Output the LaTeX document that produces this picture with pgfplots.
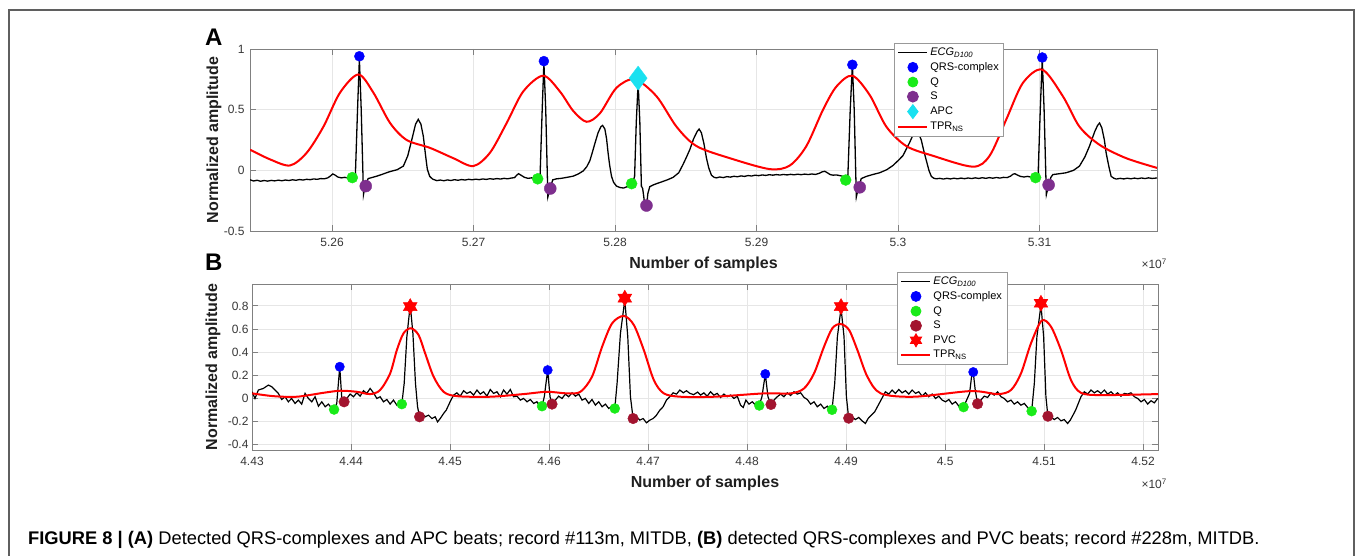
\documentclass[border=0pt]{standalone}
\usepackage{fontspec}
\setmainfont{Liberation Sans}
\usepackage{pgfplots}
\pgfplotsset{compat=1.18}
\usetikzlibrary{plotmarks}

\definecolor{qgreen}{RGB}{25,235,25}
\definecolor{spurple}{RGB}{126,47,142}
\definecolor{smaroon}{RGB}{162,20,47}
\definecolor{apccyan}{RGB}{25,225,240}
\definecolor{axgray}{RGB}{128,128,128}
\definecolor{gridgray}{RGB}{230,230,230}
\definecolor{lblgray}{RGB}{55,55,55}
\definecolor{framegray}{RGB}{95,95,95}

% filled six-pointed star (MATLAB hexagram)
\pgfdeclareplotmark{hexagram}{%
  \pgfpathmoveto{\pgfpointpolar{90}{\pgfplotmarksize}}%
  \pgfpathlineto{\pgfpointpolar{210}{\pgfplotmarksize}}%
  \pgfpathlineto{\pgfpointpolar{330}{\pgfplotmarksize}}%
  \pgfpathclose
  \pgfpathmoveto{\pgfpointpolar{270}{\pgfplotmarksize}}%
  \pgfpathlineto{\pgfpointpolar{30}{\pgfplotmarksize}}%
  \pgfpathlineto{\pgfpointpolar{150}{\pgfplotmarksize}}%
  \pgfpathclose
  \pgfusepathqfillstroke}

\pgfplotsset{
  ecg/.style={
    scale only axis,
    axis line style={axgray, line width=0.9pt},
    major tick style={axgray, line width=0.9pt},
    major tick length=6pt,
    tick align=inside,
    grid=major,
    major grid style={gridgray, line width=0.8pt},
    ticklabel style={font=\fontsize{12}{14}\selectfont, text=lblgray},
    xticklabel style={yshift=-4pt},
    label style={font=\fontsize{16}{18}\selectfont\bfseries, text=black!88},
    scaled x ticks=false,
    legend cell align=left,
    legend image code/.code={%
      \draw[mark repeat=2, mark phase=2, ##1] plot coordinates {(0pt,0pt) (14.5pt,0pt) (29pt,0pt)};},
    legend style={draw=gray!80, line width=0.8pt, fill=white,
      font=\fontsize{11}{12.5}\selectfont, inner sep=3pt, row sep=1.4pt,
      anchor=north west},
  },
}

\begin{document}
\begin{tikzpicture}
\useasboundingbox (0pt,0pt) rectangle (1360pt,556pt);
\draw[framegray, line width=1.6pt] (9pt,-2pt) -- (9pt,546pt) -- (1354pt,546pt) -- (1354pt,-2pt);

%% ---------------- panel A ----------------
\begin{axis}[ecg,
  at={(250pt,325pt)}, anchor=south west,
  width=907pt, height=182pt,
  xmin=5.2542, xmax=5.3183, ymin=-0.5, ymax=1,
  xtick={5.26,5.27,5.28,5.29,5.30,5.31},
  xticklabels={5.26,5.27,5.28,5.29,5.3,5.31},
  ytick={-0.5,0,0.5,1},
  yticklabels={-0.5,0,0.5,1},
  yticklabel style={xshift=-2pt},
  xlabel={Number of samples},
  ylabel={Normalized amplitude},
  xlabel style={at={(axis description cs:0.5,-0.181)}, anchor=center},
  ylabel style={at={(axis description cs:-0.0397,0.5)}, anchor=center},
  legend style={at={(0.710,1.035)}},
]
% ECG signal
\addplot[black, line width=1.3pt, forget plot] coordinates {
(5.25420,-0.078) (5.25445,-0.088) (5.25470,-0.082) (5.25495,-0.090) (5.25520,-0.084) (5.25545,-0.089)
(5.25570,-0.083) (5.25595,-0.087) (5.25620,-0.081) (5.25645,-0.086) (5.25670,-0.080) (5.25695,-0.084)
(5.25720,-0.078) (5.25745,-0.082) (5.25770,-0.076) (5.25795,-0.080) (5.25820,-0.074) (5.25845,-0.077)
(5.25870,-0.071) (5.25895,-0.074) (5.25920,-0.068) (5.25945,-0.070) (5.25970,-0.062) (5.25990,-0.045)
(5.26005,-0.030) (5.26020,-0.038) (5.26040,-0.055) (5.26065,-0.062) (5.26090,-0.058) (5.26115,-0.064)
(5.26135,-0.058) (5.26150,-0.050) (5.26165,-0.030) (5.26180,0.50) (5.26193,0.92) (5.26206,0.50)
(5.26222,-0.20) (5.26235,-0.12) (5.26255,-0.068) (5.26280,-0.060) (5.26316,-0.048) (5.26350,-0.035)
(5.26380,-0.022) (5.26410,-0.010) (5.26460,0.005) (5.26504,0.035) (5.26535,0.12) (5.26563,0.25)
(5.26590,0.38) (5.26609,0.42) (5.26628,0.38) (5.26645,0.28) (5.26660,0.13) (5.26673,0.01)
(5.26690,-0.05) (5.26710,-0.072) (5.26740,-0.085) (5.26765,-0.080) (5.26790,-0.086) (5.26815,-0.079)
(5.26840,-0.084) (5.26865,-0.077) (5.26890,-0.082) (5.26915,-0.076) (5.26940,-0.080) (5.26965,-0.074)
(5.26990,-0.078) (5.27015,-0.073) (5.27040,-0.077) (5.27065,-0.071) (5.27090,-0.075) (5.27115,-0.069)
(5.27140,-0.073) (5.27165,-0.068) (5.27190,-0.072) (5.27215,-0.066) (5.27240,-0.070) (5.27265,-0.064)
(5.27290,-0.060) (5.27305,-0.040) (5.27318,-0.028) (5.27335,-0.040) (5.27360,-0.058) (5.27385,-0.066)
(5.27410,-0.062) (5.27435,-0.068) (5.27455,-0.062) (5.27470,-0.045) (5.27485,0.50) (5.27497,0.89)
(5.27510,0.50) (5.27525,-0.22) (5.27540,-0.15) (5.27560,-0.078) (5.27587,-0.070) (5.27620,-0.066)
(5.27660,-0.058) (5.27704,-0.048) (5.27740,-0.030) (5.27775,-0.005) (5.27800,0.03) (5.27822,0.08)
(5.27840,0.15) (5.27857,0.22) (5.27880,0.31) (5.27900,0.36) (5.27912,0.37) (5.27928,0.34)
(5.27940,0.26) (5.27951,0.14) (5.27962,0.04) (5.27975,-0.05) (5.27990,-0.10) (5.28010,-0.13)
(5.28035,-0.142) (5.28060,-0.146) (5.28085,-0.135) (5.28105,-0.125) (5.28125,-0.10) (5.28138,-0.05)
(5.28150,0.40) (5.28163,0.72) (5.28175,0.40) (5.28186,-0.13) (5.28195,-0.15) (5.28202,-0.21)
(5.28210,-0.29) (5.28222,-0.30) (5.28232,-0.19) (5.28245,-0.135) (5.28270,-0.120) (5.28293,-0.110)
(5.28330,-0.095) (5.28370,-0.078) (5.28410,-0.058) (5.28450,-0.020) (5.28481,0.05) (5.28505,0.11)
(5.28528,0.17) (5.28555,0.26) (5.28580,0.32) (5.28594,0.34) (5.28610,0.31) (5.28628,0.22)
(5.28646,0.10) (5.28662,0.02) (5.28681,-0.04) (5.28700,-0.058) (5.28717,-0.062) (5.28740,-0.055)
(5.28765,-0.060) (5.28790,-0.052) (5.28815,-0.056) (5.28840,-0.049) (5.28865,-0.053) (5.28890,-0.046)
(5.28915,-0.050) (5.28940,-0.043) (5.28965,-0.047) (5.28990,-0.040) (5.29015,-0.044) (5.29040,-0.038)
(5.29065,-0.042) (5.29090,-0.036) (5.29115,-0.040) (5.29140,-0.035) (5.29165,-0.039) (5.29190,-0.034)
(5.29215,-0.038) (5.29240,-0.033) (5.29265,-0.037) (5.29290,-0.032) (5.29315,-0.036) (5.29340,-0.031)
(5.29365,-0.035) (5.29390,-0.030) (5.29415,-0.034) (5.29440,-0.026) (5.29465,-0.012) (5.29482,-0.008)
(5.29500,-0.020) (5.29520,-0.035) (5.29540,-0.040) (5.29565,-0.038) (5.29590,-0.044) (5.29612,-0.050)
(5.29630,-0.065) (5.29645,-0.05) (5.29662,0.50) (5.29677,0.87) (5.29690,0.50) (5.29705,-0.22)
(5.29720,-0.14) (5.29740,-0.068) (5.29776,-0.050) (5.29820,-0.035) (5.29870,-0.020) (5.29920,0.005)
(5.29964,0.04) (5.30000,0.08) (5.30034,0.12) (5.30060,0.18) (5.30082,0.23) (5.30105,0.29)
(5.30129,0.32) (5.30150,0.29) (5.30164,0.25) (5.30182,0.16) (5.30200,0.08) (5.30218,0.0)
(5.30235,-0.05) (5.30252,-0.065) (5.30270,-0.070) (5.30295,-0.066) (5.30320,-0.072) (5.30345,-0.066)
(5.30370,-0.071) (5.30395,-0.065) (5.30420,-0.070) (5.30445,-0.064) (5.30470,-0.069) (5.30495,-0.063)
(5.30520,-0.068) (5.30545,-0.062) (5.30570,-0.067) (5.30595,-0.061) (5.30620,-0.066) (5.30645,-0.060)
(5.30670,-0.065) (5.30695,-0.059) (5.30720,-0.064) (5.30745,-0.058) (5.30770,-0.060) (5.30795,-0.048)
(5.30812,-0.032) (5.30825,-0.028) (5.30845,-0.040) (5.30865,-0.050) (5.30890,-0.055) (5.30915,-0.050)
(5.30940,-0.056) (5.30960,-0.052) (5.30978,-0.045) (5.30990,-0.03) (5.31005,0.50) (5.31019,0.92)
(5.31032,0.50) (5.31048,-0.20) (5.31064,-0.12) (5.31080,-0.058) (5.31094,-0.035) (5.31140,-0.028)
(5.31188,-0.020) (5.31240,0.0) (5.31282,0.035) (5.31320,0.11) (5.31353,0.20) (5.31390,0.32)
(5.31410,0.37) (5.31424,0.39) (5.31440,0.35) (5.31458,0.25) (5.31471,0.14) (5.31490,0.03)
(5.31506,-0.05) (5.31525,-0.065) (5.31542,-0.072) (5.31570,-0.066) (5.31595,-0.071) (5.31620,-0.065)
(5.31645,-0.070) (5.31670,-0.064) (5.31695,-0.069) (5.31720,-0.063) (5.31745,-0.068) (5.31770,-0.062)
(5.31795,-0.067) (5.31830,-0.063)
};
% TPR_NS
\addplot[red, line width=2pt, smooth, forget plot] coordinates {
(5.25421,0.17) (5.25562,0.09) (5.25703,0.04) (5.25821,0.145) (5.25939,0.36) (5.26056,0.64)
(5.26186,0.79) (5.26292,0.64) (5.26410,0.39) (5.26527,0.25) (5.26692,0.185) (5.26857,0.10)
(5.26998,0.035) (5.27116,0.145) (5.27234,0.39) (5.27351,0.65) (5.27492,0.78) (5.27610,0.65)
(5.27704,0.49) (5.27799,0.40) (5.27893,0.47) (5.28010,0.68) (5.28140,0.75) (5.28293,0.61)
(5.28434,0.36) (5.28575,0.20) (5.28811,0.10) (5.29093,0.01) (5.29235,0.04) (5.29352,0.20)
(5.29470,0.50) (5.29564,0.69) (5.29677,0.78) (5.29800,0.62) (5.29917,0.36) (5.30058,0.20)
(5.30246,0.12) (5.30529,0.03) (5.30647,0.12) (5.30765,0.42) (5.30882,0.72) (5.31019,0.83)
(5.31165,0.61) (5.31282,0.36) (5.31424,0.21) (5.31612,0.10) (5.31830,0.02)
};
\addplot[only marks, mark=*, mark size=5, blue, forget plot] coordinates {
(5.26193,0.94) (5.27497,0.90) (5.29677,0.87) (5.31019,0.93)};
\addplot[only marks, mark=*, mark size=5.5, qgreen, forget plot] coordinates {
(5.26143,-0.06) (5.27453,-0.07) (5.28117,-0.11) (5.29630,-0.08) (5.30972,-0.06)};
\addplot[only marks, mark=*, mark size=6, spurple, forget plot] coordinates {
(5.26238,-0.13) (5.27542,-0.15) (5.28222,-0.29) (5.29729,-0.14) (5.31064,-0.12)};
\addplot[only marks, mark=diamond*, mark size=12, apccyan, forget plot] coordinates {
(5.28163,0.76)};
% legend
\addlegendimage{black, line width=1.3pt}
\addlegendentry{\textit{ECG}\textsubscript{\textit{D100}}}
\addlegendimage{only marks, mark=*, mark size=5, blue}
\addlegendentry{QRS-complex}
\addlegendimage{only marks, mark=*, mark size=5, qgreen}
\addlegendentry{Q}
\addlegendimage{only marks, mark=*, mark size=5.5, spurple}
\addlegendentry{S}
\addlegendimage{only marks, mark=diamond*, mark size=7, apccyan}
\addlegendentry{APC}
\addlegendimage{red, line width=2pt}
\addlegendentry{TPR\textsubscript{NS}}
\end{axis}

%% ---------------- panel B ----------------
\begin{axis}[ecg,
  at={(252pt,106pt)}, anchor=south west,
  width=906pt, height=166pt,
  xmin=4.43, xmax=4.5215, ymin=-0.45, ymax=0.99,
  xtick={4.43,4.44,4.45,4.46,4.47,4.48,4.49,4.50,4.51,4.52},
  xticklabels={4.43,4.44,4.45,4.46,4.47,4.48,4.49,4.5,4.51,4.52},
  ytick={-0.4,-0.2,0,0.2,0.4,0.6,0.8},
  yticklabels={-0.4,-0.2,0,0.2,0.4,0.6,0.8},
  xlabel={Number of samples},
  ylabel={Normalized amplitude},
  xlabel style={at={(axis description cs:0.5,-0.199)}, anchor=center},
  ylabel style={at={(axis description cs:-0.0430,0.5)}, anchor=center},
  legend style={at={(0.712,1.074)}},
]
\addplot[black, line width=1.2pt, forget plot] coordinates {
(4.43000,0.055) (4.43030,-0.003) (4.43064,0.070) (4.43115,0.084) (4.43165,0.113) (4.43199,0.099)
(4.43233,0.070) (4.43266,0.041) (4.43300,-0.012) (4.43334,0.012) (4.43367,-0.032) (4.43400,-0.003)
(4.43435,-0.046) (4.43468,-0.017) (4.43502,-0.052) (4.43536,0.041) (4.43570,-0.003) (4.43604,-0.032)
(4.43637,0.012) (4.43671,-0.070) (4.43705,-0.032) (4.43739,-0.075) (4.43772,-0.052) (4.43806,-0.090)
(4.43829,-0.099) (4.43856,-0.046) (4.43886,0.272) (4.43907,-0.003) (4.43930,-0.032) (4.43957,-0.003)
(4.43991,0.035) (4.44025,0.012) (4.44058,0.046) (4.44092,0.017) (4.44126,0.064) (4.44159,0.041)
(4.44193,0.084) (4.44227,0.046) (4.44261,-0.003) (4.44294,0.012) (4.44328,-0.032) (4.44362,-0.012)
(4.44395,-0.052) (4.44429,-0.017) (4.44463,-0.061) (4.44490,-0.041) (4.44513,-0.052) (4.44537,0.128)
(4.44564,0.533) (4.44598,0.809) (4.44625,0.562) (4.44651,0.128) (4.44672,-0.075) (4.44692,-0.162)
(4.44716,-0.133) (4.44749,-0.162) (4.44783,-0.148) (4.44817,-0.177) (4.44850,-0.162) (4.44874,-0.206)
(4.44901,-0.177) (4.44935,-0.133) (4.44962,-0.104) (4.44985,-0.061) (4.45009,-0.017) (4.45036,0.026)
(4.45069,0.046) (4.45103,0.017) (4.45137,0.064) (4.45170,0.041) (4.45204,0.055) (4.45238,0.026)
(4.45272,0.070) (4.45305,0.035) (4.45339,0.055) (4.45373,0.017) (4.45406,0.075) (4.45440,0.041)
(4.45474,0.055) (4.45508,0.012) (4.45541,0.070) (4.45575,0.035) (4.45609,0.075) (4.45642,0.012)
(4.45676,0.017) (4.45710,-0.017) (4.45743,-0.003) (4.45777,-0.032) (4.45811,-0.012) (4.45845,-0.046)
(4.45878,-0.032) (4.45905,-0.070) (4.45929,-0.070) (4.45952,0.012) (4.45986,0.243) (4.46010,0.012)
(4.46030,-0.052) (4.46064,-0.017) (4.46097,0.017) (4.46131,-0.003) (4.46165,0.035) (4.46198,0.012)
(4.46232,0.046) (4.46266,0.017) (4.46300,0.035) (4.46333,-0.017) (4.46367,-0.003) (4.46401,-0.046)
(4.46434,-0.012) (4.46468,-0.061) (4.46502,-0.032) (4.46536,-0.075) (4.46569,-0.052) (4.46603,-0.090)
(4.46637,-0.070) (4.46664,-0.090) (4.46687,0.128) (4.46721,0.562) (4.46765,0.852) (4.46795,0.533)
(4.46822,0.012) (4.46849,-0.177) (4.46883,-0.162) (4.46917,-0.191) (4.46950,-0.177) (4.46984,-0.214)
(4.47018,-0.191) (4.47051,-0.177) (4.47085,-0.148) (4.47119,-0.104) (4.47152,-0.075) (4.47186,-0.017)
(4.47220,0.012) (4.47253,0.046) (4.47287,0.035) (4.47321,0.070) (4.47355,0.046) (4.47388,0.064)
(4.47422,0.041) (4.47460,0.030) (4.47500,0.052) (4.47530,0.026) (4.47564,0.046) (4.47597,0.017)
(4.47631,0.055) (4.47665,0.026) (4.47698,0.041) (4.47732,0.006) (4.47766,0.035) (4.47800,0.012)
(4.47833,0.026) (4.47867,-0.003) (4.47901,0.017) (4.47934,-0.061) (4.47961,-0.081) (4.47988,-0.017)
(4.48019,-0.052) (4.48052,-0.032) (4.48086,-0.061) (4.48123,-0.064) (4.48150,0.012) (4.48184,0.209)
(4.48211,0.012) (4.48241,-0.055) (4.48271,-0.017) (4.48305,0.012) (4.48339,0.035) (4.48372,0.012)
(4.48406,0.046) (4.48440,0.023) (4.48474,0.055) (4.48507,0.035) (4.48541,0.046) (4.48575,0.006)
(4.48608,-0.012) (4.48642,-0.052) (4.48676,-0.032) (4.48709,-0.075) (4.48743,-0.052) (4.48777,-0.090)
(4.48811,-0.070) (4.48838,-0.104) (4.48858,-0.101) (4.48885,0.128) (4.48912,0.533) (4.48949,0.780)
(4.48979,0.533) (4.49003,0.012) (4.49026,-0.174) (4.49060,-0.162) (4.49094,-0.186) (4.49127,-0.168)
(4.49161,-0.197) (4.49195,-0.220) (4.49222,-0.177) (4.49255,-0.148) (4.49289,-0.119) (4.49316,-0.075)
(4.49343,-0.032) (4.49370,0.012) (4.49397,0.055) (4.49431,0.035) (4.49465,0.070) (4.49498,0.041)
(4.49532,0.075) (4.49566,0.046) (4.49599,0.064) (4.49633,0.035) (4.49667,0.070) (4.49701,0.041)
(4.49734,0.055) (4.49768,0.017) (4.49802,0.046) (4.49835,0.012) (4.49869,0.035) (4.49903,-0.003)
(4.49936,0.017) (4.49970,-0.017) (4.50004,-0.032) (4.50038,-0.012) (4.50071,-0.052) (4.50105,-0.032)
(4.50139,-0.070) (4.50166,-0.075) (4.50186,-0.078) (4.50247,0.041) (4.50267,0.186) (4.50284,0.226)
(4.50304,0.070) (4.50328,-0.049) (4.50361,-0.017) (4.50395,0.017) (4.50429,0.006) (4.50463,0.046)
(4.50496,0.026) (4.50530,0.055) (4.50564,0.012) (4.50597,-0.003) (4.50631,-0.032) (4.50665,-0.017)
(4.50698,-0.052) (4.50732,-0.032) (4.50766,-0.061) (4.50800,-0.046) (4.50833,-0.081) (4.50853,-0.099)
(4.50874,-0.113) (4.50901,0.128) (4.50927,0.533) (4.50968,0.809) (4.50995,0.533) (4.51018,0.012)
(4.51038,-0.157) (4.51069,-0.162) (4.51102,-0.186) (4.51136,-0.168) (4.51170,-0.197) (4.51203,-0.186)
(4.51237,-0.220) (4.51264,-0.191) (4.51291,-0.148) (4.51318,-0.104) (4.51345,-0.046) (4.51372,0.012)
(4.51406,0.055) (4.51439,0.035) (4.51473,0.070) (4.51507,0.046) (4.51540,0.064) (4.51574,0.041)
(4.51608,0.070) (4.51642,0.035) (4.51675,0.055) (4.51709,0.026) (4.51743,0.046) (4.51776,0.017)
(4.51810,0.041) (4.51844,0.035) (4.51877,0.046) (4.51911,0.012) (4.51945,-0.003) (4.51979,-0.032)
(4.52012,-0.012) (4.52046,-0.052) (4.52080,-0.023) (4.52113,-0.041) (4.52147,-0.003)
};
\addplot[red, line width=2pt, smooth, forget plot] coordinates {
(4.43003,0.041) (4.43216,0.017) (4.43452,0.012) (4.43721,0.046) (4.43890,0.064) (4.44058,0.055)
(4.44193,0.035) (4.44294,0.070) (4.44395,0.214) (4.44463,0.417) (4.44530,0.562) (4.44605,0.606)
(4.44682,0.548) (4.44749,0.388) (4.44834,0.186) (4.44935,0.055) (4.45069,0.017) (4.45406,0.012)
(4.45743,0.035) (4.45979,0.055) (4.46182,0.041) (4.46317,0.055) (4.46434,0.186) (4.46536,0.446)
(4.46637,0.649) (4.46755,0.713) (4.46856,0.635) (4.46957,0.417) (4.47058,0.157) (4.47159,0.041)
(4.47328,0.012) (4.47665,0.012) (4.48171,0.041) (4.48440,0.041) (4.48575,0.084) (4.48676,0.214)
(4.48777,0.446) (4.48861,0.606) (4.48945,0.643) (4.49030,0.591) (4.49114,0.417) (4.49215,0.186)
(4.49350,0.041) (4.49687,0.012) (4.50260,0.061) (4.50530,0.035) (4.50665,0.070) (4.50766,0.214)
(4.50867,0.475) (4.50975,0.672) (4.51069,0.620) (4.51170,0.417) (4.51271,0.157) (4.51372,0.046)
(4.51574,0.026) (4.52150,0.035)
};
\addplot[only marks, mark=*, mark size=4.7, blue, forget plot] coordinates {
(4.43886,0.272) (4.45986,0.243) (4.48184,0.209) (4.50284,0.226)};
\addplot[only marks, mark=*, mark size=5, qgreen, forget plot] coordinates {
(4.43829,-0.099) (4.44513,-0.052) (4.45929,-0.070) (4.46664,-0.090)
(4.48123,-0.064) (4.48858,-0.101) (4.50186,-0.078) (4.50874,-0.113)};
\addplot[only marks, mark=*, mark size=5.3, smaroon, forget plot] coordinates {
(4.43930,-0.032) (4.44692,-0.162) (4.46030,-0.052) (4.46849,-0.177)
(4.48241,-0.055) (4.49026,-0.174) (4.50328,-0.049) (4.51038,-0.157)};
\addplot[only marks, mark=hexagram, mark size=8, red, forget plot] coordinates {
(4.44598,0.794) (4.46765,0.867) (4.48949,0.794) (4.50968,0.823)};
\addlegendimage{black, line width=1.3pt}
\addlegendentry{\textit{ECG}\textsubscript{\textit{D100}}}
\addlegendimage{only marks, mark=*, mark size=5, blue}
\addlegendentry{QRS-complex}
\addlegendimage{only marks, mark=*, mark size=5, qgreen}
\addlegendentry{Q}
\addlegendimage{only marks, mark=*, mark size=5.5, smaroon}
\addlegendentry{S}
\addlegendimage{only marks, mark=hexagram, mark size=6.5, red}
\addlegendentry{PVC}
\addlegendimage{red, line width=2pt}
\addlegendentry{TPR\textsubscript{NS}}
\end{axis}

%% panel letters, exponents, caption
\node[anchor=base west, inner sep=0pt, font=\fontsize{24}{26}\selectfont\bfseries] at (205pt,510pt) {A};
\node[anchor=base west, inner sep=0pt, font=\fontsize{24}{26}\selectfont\bfseries] at (205pt,285pt) {B};
\node[anchor=base east, inner sep=0pt, font=\fontsize{12}{14}\selectfont, text=lblgray] at (1167pt,287pt) {×10\textsuperscript{7}};
\node[anchor=base east, inner sep=0pt, font=\fontsize{12}{14}\selectfont, text=lblgray] at (1167pt,67pt) {×10\textsuperscript{7}};
\node[anchor=base west, inner sep=0pt, font=\fontsize{18.3}{21}\selectfont] at (28pt,11pt)
  {\textbf{FIGURE 8 | (A)} Detected QRS-complexes and APC beats; record \#113m, MITDB, \textbf{(B)} detected QRS-complexes and PVC beats; record \#228m, MITDB.};
\end{tikzpicture}
\end{document}
